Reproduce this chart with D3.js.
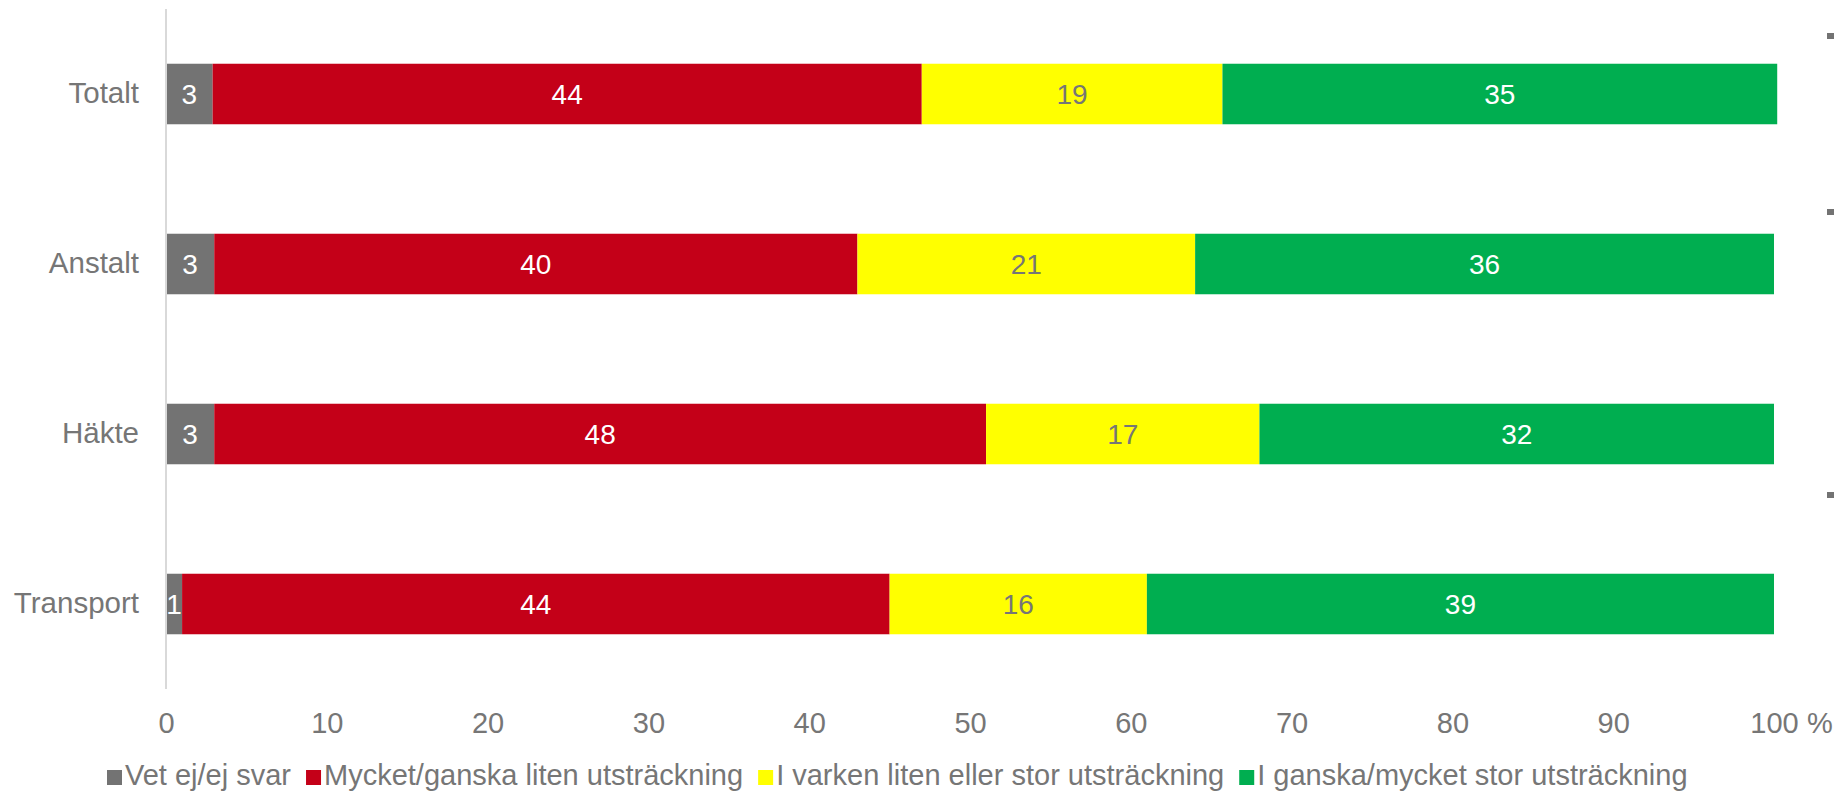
<!DOCTYPE html>
<html>
<head>
    <meta charset="utf-8">
    <title>Stacked bar</title>
    <script src="https://d3js.org/d3.v7.min.js" charset="utf-8"></script>
    <style>
        body { margin: 0; background: #fff; }
        text { font-family: "Liberation Sans", Arial, sans-serif; }
    </style>
</head>
<body>
    <div class="chart"></div>
    <script type="text/javascript">

        const categories = ['Totalt', 'Anstalt', 'Häkte', 'Transport']
        const seriesNames = ['Vet ej/ej svar', 'Mycket/ganska liten utsträckning',
            'I varken liten eller stor utsträckning', 'I ganska/mycket stor utsträckning']
        const vetEj = [2.9, 3, 3, 1]
        const liten = [44.1, 40, 48, 44]
        const varken = [18.7, 21, 17, 16]
        const stor = [34.5, 36, 32, 39]
        const xTicks = [0, 10, 20, 30, 40, 50, 60, 70, 80, 90, 100]

        const colors = ['#737373', '#c40018', '#ffff00', '#00ae50']
        const labelColors = ['#ffffff', '#ffffff', '#767676', '#ffffff']
        const gray = '#767676'

        const w = 1836
        const h = 791
        const plotLeft = 166
        const plotRight = 1774
        const plotTop = 9
        const plotBottom = 689

        const series = [vetEj, liten, varken, stor]
        const table = categories.map((c, i) => {
            const row = { cat: c }
            seriesNames.forEach((s, j) => row[s] = series[j][i])
            return row
        })
        const stacked = d3.stack().keys(seriesNames)(table)

        const svg = d3.select('.chart')
            .append('svg')
            .attr('width', w)
            .attr('height', h)

        const xScale = d3.scaleLinear()
            .domain([0, 100])
            .range([plotLeft, plotRight])

        const yScale = d3.scaleBand()
            .domain(categories)
            .range([plotTop, plotBottom])
            .paddingInner(0.644)
            .paddingOuter(0.322)

        // bars
        const layers = svg.selectAll('g.layer')
            .data(stacked)
            .enter()
            .append('g')
            .attr('class', 'layer')
            .attr('fill', (d, i) => colors[i])

        layers.selectAll('rect')
            .data(d => d)
            .enter()
            .append('rect')
            .attr('x', d => xScale(d[0]))
            .attr('y', d => yScale(d.data.cat))
            .attr('width', d => xScale(d[1]) - xScale(d[0]))
            .attr('height', yScale.bandwidth())

        // value labels
        stacked.forEach((layer, i) => {
            svg.append('g').selectAll('text')
                .data(layer)
                .enter()
                .append('text')
                .attr('x', d => (xScale(d[0]) + xScale(d[1])) / 2)
                .attr('y', d => yScale(d.data.cat) + yScale.bandwidth() / 2)
                .attr('dy', '0.36em')
                .attr('text-anchor', 'middle')
                .attr('font-size', '28px')
                .attr('fill', labelColors[i])
                .text(d => Math.round(d[1] - d[0]))
        })

        // vertical axis line
        svg.append('line')
            .attr('x1', xScale(0))
            .attr('x2', xScale(0))
            .attr('y1', plotTop)
            .attr('y2', plotBottom)
            .attr('stroke', '#d9d9d9')
            .attr('stroke-width', 2)

        // category axis
        const yAxis = d3.axisLeft(yScale).tickSize(0).tickPadding(27)
        const yg = svg.append('g')
            .attr('transform', 'translate(' + plotLeft + ',0)')
            .call(yAxis)
        yg.select('.domain').remove()
        yg.selectAll('text')
            .attr('font-size', '29.5px')
            .attr('font-family', '"Liberation Sans", Arial, sans-serif')
            .attr('fill', gray)

        // value axis
        const xAxis = d3.axisBottom(xScale)
            .tickValues(xTicks)
            .tickSize(0)
            .tickPadding(23)
        const xg = svg.append('g')
            .attr('transform', 'translate(0,' + plotBottom + ')')
            .call(xAxis)
        xg.select('.domain').remove()
        xg.selectAll('text')
            .attr('font-size', '29px')
            .attr('font-family', '"Liberation Sans", Arial, sans-serif')
            .attr('fill', gray)

        svg.append('text')
            .attr('x', xScale(100) + 33)
            .attr('y', plotBottom + 23)
            .attr('dy', '0.71em')
            .attr('font-size', '29px')
            .attr('fill', gray)
            .text('%')

        // legend
        const legend = svg.append('g')
        let lx = 0
        seriesNames.forEach((s, i) => {
            const item = legend.append('g').attr('transform', 'translate(' + lx + ',0)')
            item.append('rect')
                .attr('x', 0)
                .attr('y', -15)
                .attr('width', 15)
                .attr('height', 15)
                .attr('fill', colors[i])
            const t = item.append('text')
                .attr('x', 18)
                .attr('y', 0)
                .attr('font-size', '29px')
                .attr('fill', gray)
                .text(s)
            lx += 18 + t.node().getComputedTextLength() + 15
        })
        legend.attr('transform', 'translate(' + 107 + ',' + 785 + ')')

        // cropped legend markers at the right edge
        const edgeY = [36, 212, 495]
        svg.selectAll('rect.edge')
            .data(edgeY)
            .enter()
            .append('rect')
            .attr('class', 'edge')
            .attr('x', 1827)
            .attr('y', d => d - 3)
            .attr('width', 7)
            .attr('height', 6)
            .attr('fill', colors[0])

    </script>
</body>
</html>
